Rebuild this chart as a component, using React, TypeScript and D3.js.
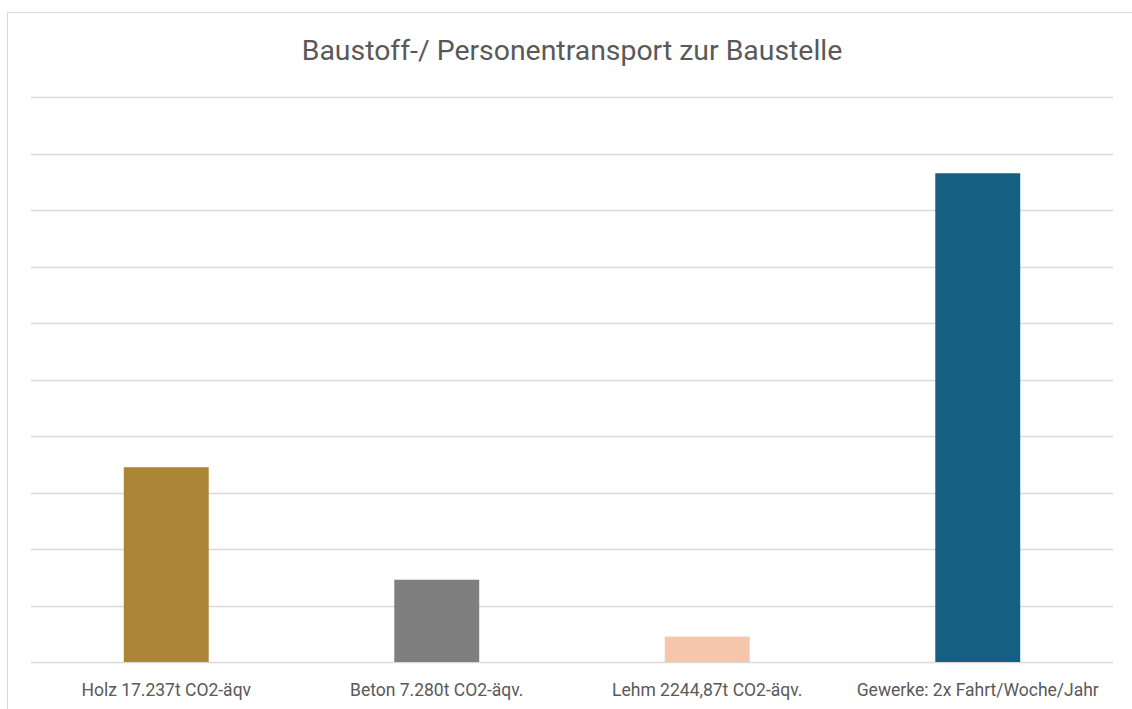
import * as React from "react";
import * as d3 from "d3";

const categories = [
  "Holz 17.237t CO2-äqv",
  "Beton 7.280t CO2-äqv.",
  "Lehm 2244,87t CO2-äqv.",
  "Gewerke: 2x Fahrt/Woche/Jahr",
];
const values = [17237, 7280, 2245, 43250];
const colors = ["#ad8536", "#7f7f7f", "#f6c6ac", "#156082"];
const yTicks = d3.range(0, 50001, 5000);

const title = "Baustoff-/ Personentransport zur Baustelle";

export default function App() {
  const width = 1132;
  const height = 709;
  const left = 31;
  const right = 1113;
  const top = 97;
  const bottom = 662;

  const x = d3
    .scaleBand()
    .domain(categories)
    .range([left, right])
    .paddingInner(0.686)
    .paddingOuter(0.343);

  const y = d3.scaleLinear().domain([0, 50000]).range([bottom, top]);

  const font = "Roboto, Lato, sans-serif";

  return (
    <svg
      width={width}
      height={height}
      style={{ position: "absolute", left: 0, top: 0 }}
    >
      <rect x={0} y={0} width={width} height={height} fill="#fff" />
      <rect
        x={7.5}
        y={12.5}
        width={width}
        height={height}
        fill="#fff"
        stroke="#d9d9d9"
        strokeWidth={1}
      />
      <text
        x={572}
        y={60}
        textAnchor="middle"
        fontFamily={font}
        fontSize={28.4}
        fill="#595959"
      >
        {title}
      </text>
      {yTicks.map((t) => (
        <line
          key={t}
          x1={left}
          x2={right}
          y1={Math.round(y(t)) + 0.5}
          y2={Math.round(y(t)) + 0.5}
          stroke="#d9d9d9"
          strokeWidth={1.5}
        />
      ))}
      {categories.map((c, i) => (
        <rect
          key={c}
          x={x(c)}
          y={y(values[i])}
          width={x.bandwidth()}
          height={bottom - y(values[i])}
          fill={colors[i]}
        />
      ))}
      {categories.map((c) => (
        <text
          key={c}
          x={(x(c) || 0) + x.bandwidth() / 2}
          y={696}
          textAnchor="middle"
          fontFamily={font}
          fontSize={17.5}
          fill="#595959"
        >
          {c}
        </text>
      ))}
    </svg>
  );
}
